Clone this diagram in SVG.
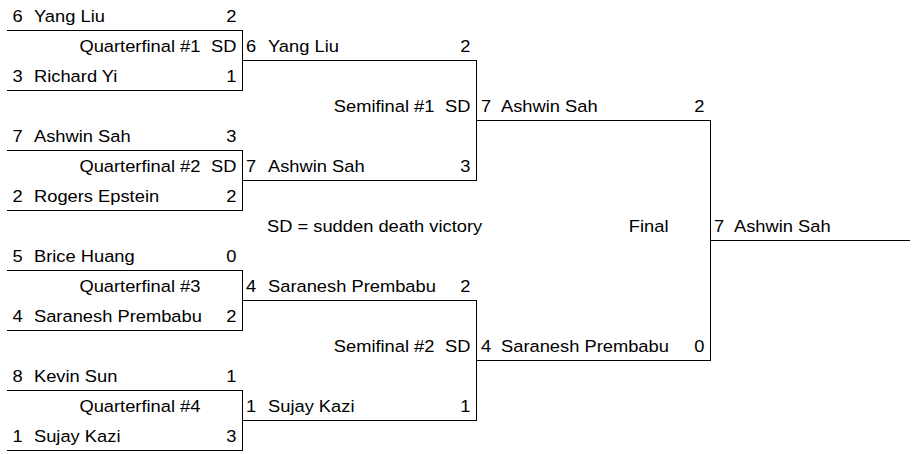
<svg xmlns="http://www.w3.org/2000/svg" width="916" height="454" viewBox="0 0 916 454">
<style>
.ln{stroke:#000;stroke-width:1;fill:none;shape-rendering:crispEdges}
text{font-family:"Liberation Sans",Arial,sans-serif;font-size:16.5px;fill:#000}
.e{text-anchor:end}
</style>
<rect width="916" height="454" fill="#fff"/>
<g id="connectors">
<path class="ln" d="M7 30.5H242.5V90.5H7M7 150.5H242.5V210.5H7M7 270.5H242.5V330.5H7M7 390.5H242.5V450.5H7"/>
<path class="ln" d="M242.5 60.5H476.5V180.5H242.5M242.5 300.5H476.5V420.5H242.5"/>
<path class="ln" d="M476.5 120.5H710.5V360.5H476.5M710.5 240.5H910"/>
</g>
<g transform="scale(1.11 1)">
<g id="qf1">
<text y="22"><tspan x="11.26">6</tspan><tspan x="30.63">Yang Liu</tspan></text>
<text class="e" x="213.06" y="22">2</text>
<text class="e" x="180.63" y="52">Quarterfinal #1</text>
<text class="e" x="213.06" y="52">SD</text>
<text y="82"><tspan x="11.26">3</tspan><tspan x="30.63">Richard Yi</tspan></text>
<text class="e" x="213.06" y="82">1</text>
</g>
<g id="qf2">
<text y="142"><tspan x="11.26">7</tspan><tspan x="30.63">Ashwin Sah</tspan></text>
<text class="e" x="213.06" y="142">3</text>
<text class="e" x="180.63" y="172">Quarterfinal #2</text>
<text class="e" x="213.06" y="172">SD</text>
<text y="202"><tspan x="11.26">2</tspan><tspan x="30.63">Rogers Epstein</tspan></text>
<text class="e" x="213.06" y="202">2</text>
</g>
<g id="qf3">
<text y="262"><tspan x="11.26">5</tspan><tspan x="30.63">Brice Huang</tspan></text>
<text class="e" x="213.06" y="262">0</text>
<text class="e" x="180.63" y="292">Quarterfinal #3</text>
<text y="322"><tspan x="11.26">4</tspan><tspan x="30.63">Saranesh Prembabu</tspan></text>
<text class="e" x="213.06" y="322">2</text>
</g>
<g id="qf4">
<text y="382"><tspan x="11.26">8</tspan><tspan x="30.63">Kevin Sun</tspan></text>
<text class="e" x="213.06" y="382">1</text>
<text class="e" x="180.63" y="412">Quarterfinal #4</text>
<text y="442"><tspan x="11.26">1</tspan><tspan x="30.63">Sujay Kazi</tspan></text>
<text class="e" x="213.06" y="442">3</text>
</g>
<g id="sf1">
<text y="52"><tspan x="221.62">6</tspan><tspan x="241.44">Yang Liu</tspan></text>
<text class="e" x="423.87" y="52">2</text>
<text class="e" x="391.44" y="112">Semifinal #1</text>
<text class="e" x="423.87" y="112">SD</text>
<text y="172"><tspan x="221.62">7</tspan><tspan x="241.44">Ashwin Sah</tspan></text>
<text class="e" x="423.87" y="172">3</text>
</g>
<g id="sf2">
<text y="292"><tspan x="221.62">4</tspan><tspan x="241.44">Saranesh Prembabu</tspan></text>
<text class="e" x="423.87" y="292">2</text>
<text class="e" x="391.44" y="352">Semifinal #2</text>
<text class="e" x="423.87" y="352">SD</text>
<text y="412"><tspan x="221.62">1</tspan><tspan x="241.44">Sujay Kazi</tspan></text>
<text class="e" x="423.87" y="412">1</text>
</g>
<g id="final">
<text y="112"><tspan x="433.33">7</tspan><tspan x="451.35">Ashwin Sah</tspan></text>
<text class="e" x="634.68" y="112">2</text>
<text class="e" x="602.25" y="232">Final</text>
<text y="352"><tspan x="433.33">4</tspan><tspan x="451.35">Saranesh Prembabu</tspan></text>
<text class="e" x="634.68" y="352">0</text>
</g>
<g id="champion">
<text y="232"><tspan x="643.24">7</tspan><tspan x="661.26">Ashwin Sah</tspan></text>
</g>
<g id="legend">
<text x="240.54" y="232">SD = sudden death victory</text>
</g>
</g>
</svg>
